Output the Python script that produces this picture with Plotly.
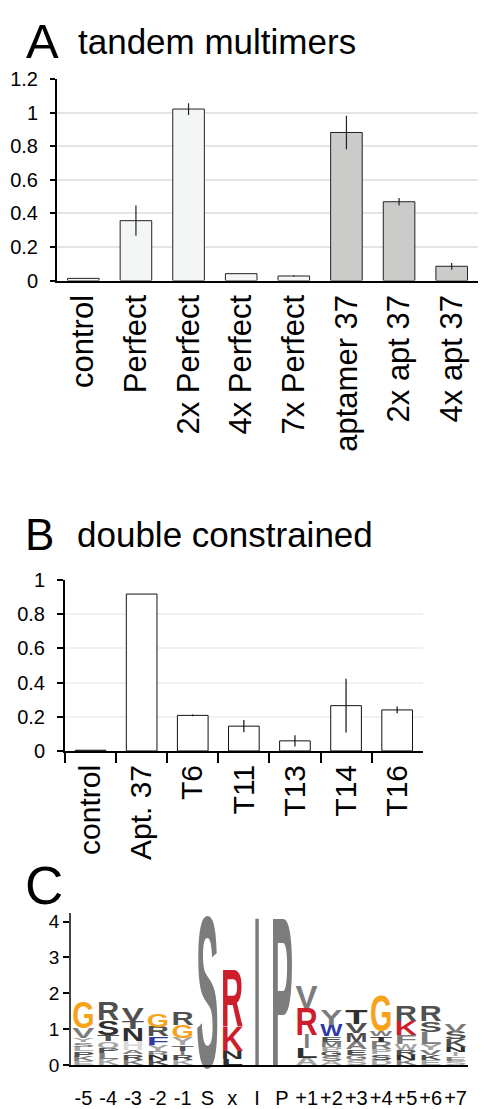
import plotly.graph_objects as go

# ---------------- data ----------------
# Panel A: tandem multimers
a_categories = ["control", "Perfect", "2x Perfect", "4x Perfect", "7x Perfect",
                "aptamer 37", "2x apt 37", "4x apt 37"]
a_values = [0.013, 0.357, 1.023, 0.041, 0.027, 0.883, 0.470, 0.085]
a_errors = [0.0, 0.090, 0.035, 0.0, 0.005, 0.100, 0.022, 0.020]
a_groups = ["light", "light", "light", "light", "light", "grey", "grey", "grey"]

# Panel B: double constrained
b_categories = ["control", "Apt. 37", "T6", "T11", "T13", "T14", "T16"]
b_values = [0.004, 0.918, 0.208, 0.145, 0.059, 0.265, 0.240]
b_errors = [0.0, 0.0, 0.005, 0.036, 0.033, 0.157, 0.020]

# Panel C: sequence logo (letters listed bottom -> top, heights in bits)
logo_positions = ["-5", "-4", "-3", "-2", "-1", "S", "x", "I", "P",
                  "+1", "+2", "+3", "+4", "+5", "+6", "+7"]
logo_letters = ["EKPLSYVG", "KLPQTSR", "KRAHNTV", "KNRYFRG", "KRITYGR",
                "S", "LNKR", "I", "P",
                "ALIRV", "ASGPMEWY", "SGEAMVT", "DSPRTWG", "KNRWFKR",
                "EKVYLSR", "SEINKSV"]
logo_heights = [
    [0.10, 0.13, 0.15, 0.13, 0.12, 0.12, 0.28, 0.72],
    [0.17, 0.17, 0.15, 0.18, 0.18, 0.40, 0.50],
    [0.15, 0.15, 0.12, 0.25, 0.35, 0.20, 0.35],
    [0.13, 0.14, 0.12, 0.18, 0.23, 0.27, 0.37],
    [0.13, 0.13, 0.14, 0.15, 0.20, 0.36, 0.37],
    [4.25],
    [0.18, 0.22, 0.70, 1.60],
    [4.25],
    [4.25],
    [0.20, 0.27, 0.38, 0.75, 0.60],
    [0.12, 0.13, 0.13, 0.12, 0.15, 0.15, 0.32, 0.45],
    [0.14, 0.15, 0.15, 0.20, 0.25, 0.27, 0.41],
    [0.15, 0.15, 0.15, 0.20, 0.15, 0.15, 0.99],
    [0.13, 0.15, 0.14, 0.18, 0.25, 0.38, 0.43],
    [0.13, 0.15, 0.15, 0.17, 0.32, 0.30, 0.44],
    [0.12, 0.12, 0.12, 0.15, 0.22, 0.20, 0.23],
]
logo_shades = ["LMDLMLMO", "LMDLDKD", "MDMWKDD", "DKMLBDO", "LDMDLOD",
               "M", "KKRR", "M", "M",
               "LKMRM", "LMDLMDBM", "LMDMDDK", "LDLMKMO", "MKDLMRD",
               "LDMLMDD", "LMLKDDM"]

# ---------------- styles ----------------
W, H = 487, 1109
FONT = "Liberation Sans"
group_fill = {"light": "#f4f6f5", "grey": "#cbcbca"}
shade_color = {"O": "#f6a31b", "R": "#cc1f2b", "B": "#2e3aa5", "K": "#2e2e2e",
               "D": "#505050", "M": "#7c7c7c", "L": "#a5a5a5", "W": "#dadada"}


def fx(p):
    return p / W


def fy(p):
    return 1 - p / H


fig = go.Figure()

# Panel A bars
fig.add_trace(go.Bar(
    x=a_categories, y=a_values, xaxis="x", yaxis="y",
    marker=dict(color=[group_fill[g] for g in a_groups],
                line=dict(color="#222222", width=1)),
    error_y=dict(type="data", array=a_errors, visible=True, width=0,
                 thickness=1.2, color="#222222"),
    hoverinfo="skip", showlegend=False))

# Panel B bars
fig.add_trace(go.Bar(
    x=b_categories, y=b_values, xaxis="x2", yaxis="y2",
    marker=dict(color="#ffffff", line=dict(color="#111111", width=1)),
    error_y=dict(type="data", array=b_errors, visible=True, width=0,
                 thickness=1.2, color="#111111"),
    hoverinfo="skip", showlegend=False))

# Panel C logo letters: stacked from the heights
lx, ly, lh, lt, lc = [], [], [], [], []
for ci, (letters, heights, shades) in enumerate(zip(logo_letters, logo_heights, logo_shades)):
    base = 0.0
    for letter, h, s in zip(letters, heights, shades):
        lx.append(ci)
        ly.append(base + h / 2)
        lh.append(h)
        lt.append(letter)
        lc.append(shade_color[s])
        base += h

fig.add_trace(go.Scatter(
    x=lx, y=ly, customdata=lh, text=lt, mode="text", name="logo",
    textposition="middle center", xaxis="x3", yaxis="y3",
    textfont=dict(family=FONT, size=40, color=lc, weight="bold"),
    hoverinfo="skip", showlegend=False, cliponaxis=False))

axis_common = dict(showline=True, linecolor="#000000", linewidth=2,
                   zeroline=False, tickcolor="#000000",
                   tickfont=dict(family=FONT, size=20, color="#000000"))

fig.update_layout(
    width=W, height=H,
    margin=dict(l=0, r=0, t=0, b=0),
    paper_bgcolor="#ffffff", plot_bgcolor="#ffffff",
    bargap=0.4,
    font=dict(family=FONT, color="#000000"),
    xaxis=dict(domain=[fx(57), fx(478)], anchor="y", type="category",
               range=[-0.5, 7.5], tickangle=-90, ticks="", showgrid=False,
               **{**axis_common, "tickfont": dict(family=FONT, size=31, color="#000000")}),
    yaxis=dict(domain=[fy(276), fy(70)], anchor="x", range=[0, 1.2], dtick=0.2,
               ticks="outside", ticklen=5, tickwidth=1.5, showgrid=True,
               gridcolor="#e4e4e4", gridwidth=2, ticklabelstandoff=8, **axis_common),
    xaxis2=dict(domain=[fx(65), fx(422.7)], anchor="y2", type="category",
                range=[-0.5, 6.5], tickangle=-90, ticks="outside", tickson="boundaries",
                ticklen=10, tickwidth=1.5, showgrid=False,
                **{**axis_common, "tickfont": dict(family=FONT, size=30, color="#000000")}),
    yaxis2=dict(domain=[fy(757.7), fy(582.7)], anchor="x2", range=[0, 1], dtick=0.2,
                ticks="outside", ticklen=6, tickwidth=1.5, showgrid=True,
                gridcolor="#f1f1f1", gridwidth=2, ticklabelstandoff=8, **axis_common),
    xaxis3=dict(domain=[fx(71), fx(468)], anchor="y3", range=[-0.5, 15.5],
                tickmode="array", tickvals=list(range(len(logo_positions))),
                ticktext=logo_positions, ticks="", showgrid=False, ticklabelstandoff=14,
                tickangle=0,
                **{**axis_common, "tickfont": dict(family=FONT, size=20, color="#000000")}),
    yaxis3=dict(domain=[fy(1079.3), fy(923.3)], anchor="x3", range=[0, 4.25],
                tickmode="array", tickvals=[0, 1, 2, 3, 4], ticks="outside",
                ticklen=6, tickwidth=1.5, showgrid=False,
                **{**axis_common, "linecolor": "#444444", "linewidth": 1.5,
                   "tickfont": dict(family=FONT, size=19, color="#000000")}),
    annotations=[
        dict(text="A", x=fx(24), y=fy(30.8), xref="paper", yref="paper",
             xanchor="left", yanchor="middle", showarrow=False,
             font=dict(family=FONT, size=49, color="#000000")),
        dict(text="tandem multimers", x=fx(76), y=fy(31.2), xref="paper", yref="paper",
             xanchor="left", yanchor="middle", showarrow=False,
             font=dict(family=FONT, size=35, color="#000000")),
        dict(text="B", x=fx(23), y=fy(535.8), xref="paper", yref="paper",
             xanchor="left", yanchor="middle", showarrow=False,
             font=dict(family=FONT, size=44, color="#000000")),
        dict(text="double constrained", x=fx(75), y=fy(536.2), xref="paper", yref="paper",
             xanchor="left", yanchor="middle", showarrow=False,
             font=dict(family=FONT, size=35, color="#000000")),
        dict(text="C", x=fx(23), y=fy(895), xref="paper", yref="paper",
             xanchor="left", yanchor="middle", showarrow=False,
             font=dict(family=FONT, size=53, color="#000000")),
    ],
)

# Stretch each logo glyph to fill its stack box (positions taken from Plotly's axes)
post_js = """
document.body.style.margin = '0';
var gd = document.getElementById('{plot_id}');
function stretchLogo(){
  var fl = gd._fullLayout;
  var xa = fl.xaxis3, ya = fl.yaxis3;
  var groups = gd.querySelectorAll('g.trace');
  for (var k = 0; k < groups.length; k++) {
    var cd = groups[k].__data__;
    if (!cd || !cd[0] || !cd[0].trace || cd[0].trace.name !== 'logo') continue;
    var tr = cd[0].trace;
    var pts = groups[k].querySelectorAll('g.textpoint');
    var colW = Math.abs(xa.c2p(1) - xa.c2p(0));
    for (var j = 0; j < pts.length; j++) {
      var g = pts[j];
      var d = g.__data__;
      var idx = (d && d.i !== undefined) ? d.i : j;
      var h = tr.customdata[idx];
      if (Array.isArray(h)) h = h[0];
      var txt = g.querySelector('text');
      g.removeAttribute('transform');
      var bb = txt.getBBox();
      var base = bb.y + 0.8102 * bb.height;
      var inkH = 0.641 * bb.height;
      var letter = txt.textContent;
      var w = (letter === 'I') ? 0.85 * bb.height : bb.width;
      var sx = 0.9 * colW / w;
      var yBot = ya.c2p(d.y - h / 2);
      var yTop = ya.c2p(d.y + h / 2);
      var sy = (yBot - yTop) / inkH;
      var cx = xa.c2p(d.x);
      var icx = bb.x + bb.width / 2;
      g.setAttribute('transform', 'translate(' + cx + ',' + yBot + ') scale(' + sx + ',' + sy + ') translate(' + (-icx) + ',' + (-base) + ')');
    }
  }
}
stretchLogo();
"""

fig.write_html("out.html", post_script=post_js, config={"displayModeBar": False})
